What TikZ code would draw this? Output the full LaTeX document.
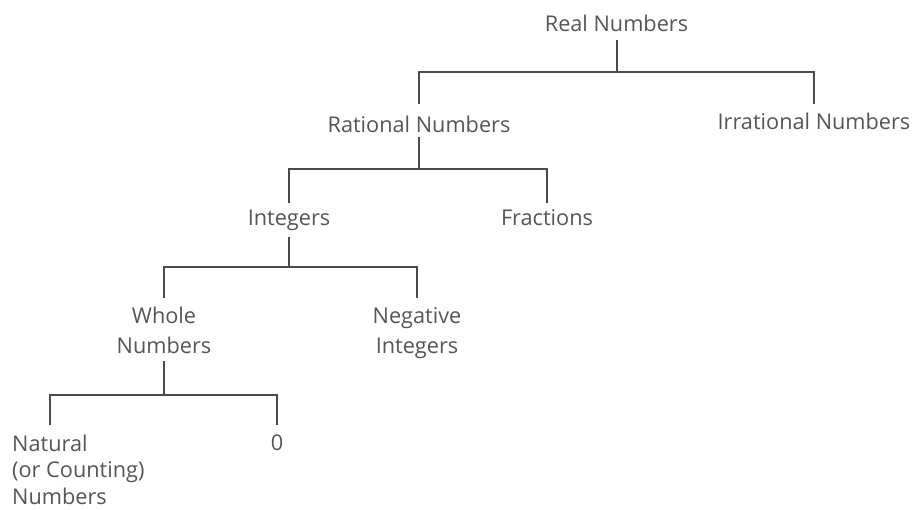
\documentclass[tikz,border=0pt]{standalone}
\usepackage{fontspec}
\setmainfont{Open Sans}
\definecolor{ink}{HTML}{555555}
\definecolor{wire}{HTML}{4A4A4A}
\newcommand{\firstline}{\rule{0pt}{17pt}}
\begin{document}
\begin{tikzpicture}[x=1pt,y=-1pt,
  tnode/.style={inner sep=0pt, font=\fontsize{21.7}{30}\selectfont, text=ink, anchor=base},
  mnode/.style={inner sep=0pt, font=\fontsize{21.7}{30}\selectfont, text=ink, anchor=north, align=center},
  conn/.style={draw=wire, line width=2pt, line join=miter}]
\useasboundingbox (0,0) rectangle (914,510);
% nodes (single-line: base anchor at baseline)
\node[tnode] (real) at (616.5,32) {Real Numbers};
\node[tnode] (rat) at (419,133) {Rational Numbers};
\node[tnode] (irr) at (814,130) {Irrational Numbers};
\node[tnode] (int) at (289,226) {Integers};
\node[tnode] (frac) at (547,226) {Fractions};
\node[mnode] (whole) at (164,306) {\firstline Whole\\Numbers};
\node[mnode] (neg) at (417,306) {\firstline Negative\\Integers};
\node[mnode, align=left, anchor=north west, font=\fontsize{21.7}{26.5}\selectfont] (nat) at (12,434) {\firstline Natural\\(or Counting)\\Numbers};
\node[tnode] (zero) at (277,451) {0};
\coordinate (natc) at ([xshift=38pt]nat.north west);
% level helpers: parent line start, bus, child line end
\coordinate (p1) at (0,40);  \coordinate (b1) at (0,72);  \coordinate (c1) at (0,104);
\coordinate (p2) at (0,137); \coordinate (b2) at (0,169); \coordinate (c2) at (0,203);
\coordinate (p3) at (0,237); \coordinate (b3) at (0,267); \coordinate (c3) at (0,298);
\coordinate (p4) at (0,361); \coordinate (b4) at (0,395); \coordinate (c4) at (0,425);
% Real -> Rational, Irrational
\draw[conn] (real |- p1) -- (real |- b1);
\draw[conn] (rat |- c1) -- (rat |- b1) -- (irr |- b1) -- (irr |- c1);
% Rational -> Integers, Fractions
\draw[conn] (rat |- p2) -- (rat |- b2);
\draw[conn] (int |- c2) -- (int |- b2) -- (frac |- b2) -- (frac |- c2);
% Integers -> Whole, Negative
\draw[conn] (int |- p3) -- (int |- b3);
\draw[conn] (whole |- c3) -- (whole |- b3) -- (neg |- b3) -- (neg |- c3);
% Whole -> Natural, 0
\draw[conn] (whole |- p4) -- (whole |- b4);
\draw[conn] (natc |- c4) -- (natc |- b4) -- (zero |- b4) -- (zero |- c4);
\end{tikzpicture}
\end{document}
